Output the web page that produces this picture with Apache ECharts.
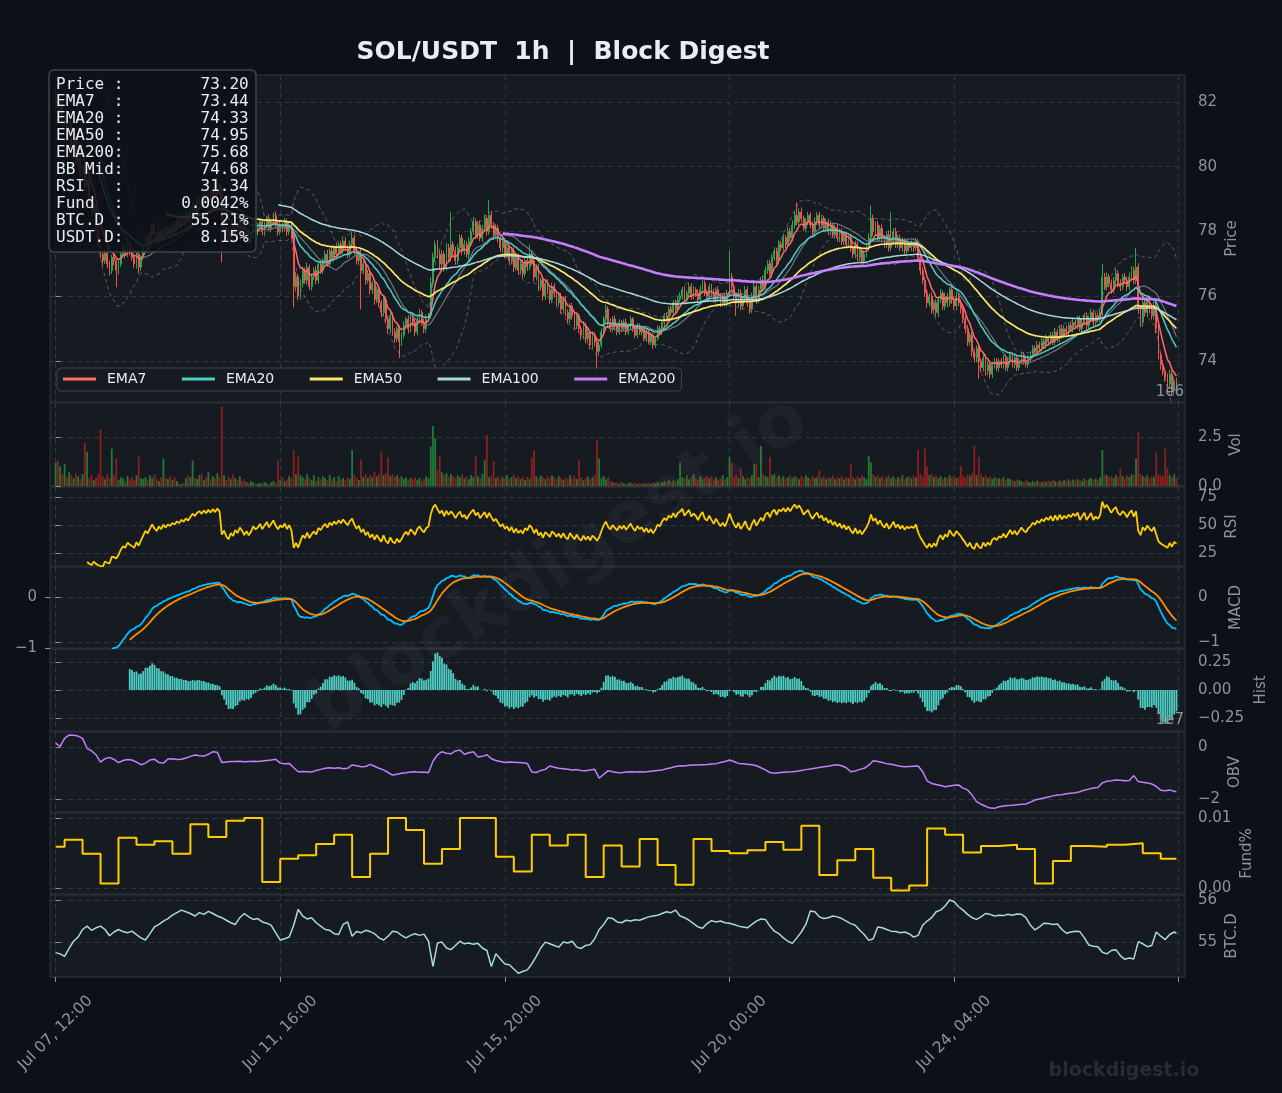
<!DOCTYPE html>
<html><head><meta charset="utf-8">
<script src="https://cdn.jsdelivr.net/npm/echarts@6/dist/echarts.min.js"></script>
<style>html,body{margin:0;padding:0;background:#0d1117;}#c{width:1282px;height:1093px;}</style>
</head><body><div id="c"></div>
<script>
// ---------------- DATA ----------------
const FIRST_OPEN = 81.9;
const closes = [
82.1,81.6,81.9,81.3,81.5,80.9,81.2,80.6,80.8,80.2,
80.4,79.8,80.0,79.4,79.6,79.0,78.6,78.8,78.1,77.6,
77.3,77.1,77.4,77.0,76.8,77.2,77.1,76.8,77.0,77.3,
77.5,77.3,77.6,77.4,77.2,77.0,77.3,76.9,77.2,77.5,
77.8,77.6,77.9,78.2,77.9,77.7,78.0,77.8,78.1,77.9,
78.1,78.0,78.2,78.1,78.3,78.2,78.4,78.3,78.5,78.4,
78.6,78.8,78.7,78.9,79.0,78.9,79.1,79.0,79.2,79.1,
79.3,79.2,79.4,79.3,78.2,78.4,78.0,77.8,78.1,77.9,
78.2,78.0,78.3,78.1,77.8,78.0,77.7,77.9,78.2,78.0,
78.1,78.3,78.0,78.2,78.4,78.1,78.3,78.5,78.2,78.0,
78.2,78.1,78.3,78.0,78.2,77.9,76.3,76.6,76.0,76.4,
76.8,76.5,76.9,76.3,76.6,76.8,76.5,77.0,76.8,77.1,
77.3,77.0,77.4,77.2,77.5,77.3,77.6,77.4,77.7,77.5,
77.3,77.6,77.8,77.4,77.1,77.3,76.8,77.0,76.5,76.7,
76.2,76.4,75.9,76.2,75.8,75.5,75.9,75.3,75.0,75.4,
74.9,74.7,75.0,74.6,74.8,75.1,75.3,75.0,75.4,75.2,
74.9,75.3,75.5,75.2,75.0,75.3,75.4,76.4,77.2,77.6,
77.3,77.0,77.3,76.9,77.5,77.2,77.6,77.4,77.1,77.5,
77.8,77.4,77.6,77.3,77.7,78.0,78.3,77.9,78.2,77.8,
78.1,78.4,78.0,78.5,78.2,77.9,78.1,77.8,77.5,77.7,
77.3,77.5,77.1,77.4,76.9,77.2,76.8,77.0,76.7,77.1,
76.9,77.3,77.1,76.6,76.9,76.3,76.5,76.0,76.4,76.2,
75.9,76.3,76.1,75.8,76.0,75.6,75.9,75.5,75.3,75.7,
75.4,75.1,75.4,75.0,74.8,75.1,74.7,74.9,74.5,74.8,
74.6,74.3,74.5,74.9,75.3,75.6,75.2,75.0,75.3,75.1,
74.9,75.2,75.0,75.2,74.9,75.1,75.3,75.0,74.8,75.1,
74.9,75.0,74.7,74.9,74.6,74.8,74.5,74.7,75.0,74.9,
75.2,75.4,75.3,75.6,75.5,75.8,75.6,75.9,76.0,76.2,
75.9,76.1,76.3,76.0,76.2,76.1,75.9,76.2,76.4,76.1,
76.0,76.3,76.1,75.9,76.2,76.0,75.8,76.0,75.8,76.1,
76.6,76.3,76.0,75.8,76.1,75.7,75.9,76.2,75.8,75.6,
76.0,76.3,75.9,76.2,76.5,76.3,76.8,77.0,76.7,77.2,
77.4,77.1,77.6,77.5,77.8,77.6,78.0,77.8,78.2,78.5,
78.3,78.6,78.4,78.1,78.3,78.5,78.2,78.0,78.3,78.5,
78.2,78.4,78.1,78.3,78.0,78.2,77.9,78.1,77.8,78.0,
77.7,77.9,77.6,77.8,77.5,77.3,77.6,77.2,77.4,77.1,
77.3,77.5,77.8,78.4,78.0,78.2,77.8,78.1,77.8,77.6,
77.9,77.5,77.7,78.0,77.6,77.8,77.5,77.7,77.4,77.6,
77.5,77.6,77.5,77.7,77.2,76.8,76.5,76.1,75.8,76.0,
75.6,75.8,75.5,75.9,76.1,75.7,76.0,75.8,76.2,75.9,
75.7,76.0,75.8,75.6,75.3,75.0,74.6,74.8,74.3,74.1,
74.4,74.0,73.8,74.1,73.7,73.9,73.6,73.9,74.0,73.8,
74.0,73.9,74.1,73.8,74.0,74.2,73.9,74.1,73.8,74.0,
74.2,74.0,73.9,74.1,74.2,74.4,74.3,74.5,74.4,74.6,
74.5,74.7,74.6,74.8,74.6,74.9,74.7,75.0,74.8,75.0,
74.9,75.1,75.0,75.2,75.1,75.3,75.0,75.2,75.4,75.1,
75.3,75.5,75.2,75.4,75.3,75.5,76.6,76.3,76.6,76.4,
76.2,76.5,76.7,76.4,76.3,76.6,76.5,76.3,76.6,76.8,
76.5,76.9,75.6,75.2,75.8,75.5,75.9,75.6,75.4,75.7,
75.0,74.2,73.9,73.7,73.5,73.3,73.6,73.1,73.4,73.2];
// upper / lower wick length beyond the candle body, in hundredths of a dollar
const wickUp = [
30,12,8,15,10,6,12,9,14,7, 11,16,6,9,13,8,12,5,10,14, 9,12,7,15,10,8,13,6,11,9, 12,8,14,10,6,11,9,13,7,10,
8,13,10,6,12,9,15,7,11,10, 10,7,12,9,14,8,11,6,13,9, 12,9,7,14,10,13,8,11,9,12, 9,13,10,8,15,11,7,12,9,10,
11,8,13,9,6,12,10,7,14,9, 8,12,9,11,7,13,10,8,12,9, 10,7,12,9,11,8,20,14,10,13, 12,9,14,8,11,10,13,7,12,9,
10,13,8,12,9,14,7,11,10,12, 9,12,20,10,13,8,14,11,9,12, 11,8,13,10,12,9,14,8,11,10, 10,12,8,11,9,13,7,12,10,8,
11,9,12,8,10,13,9,18,15,12, 14,11,13,9,15,12,100,10,13,11, 12,10,14,9,13,11,15,10,12,14, 11,13,10,48,12,9,14,11,10,12,
10,12,9,13,11,8,12,10,14,9, 12,30,10,13,9,11,8,12,10,13, 9,12,10,8,13,11,9,12,10,8, 11,9,12,8,10,13,9,11,8,12,
10,8,12,11,9,15,10,12,9,11, 8,10,7,9,11,8,10,6,9,8, 7,9,8,10,6,9,8,7,10,8, 9,8,11,9,12,10,9,13,12,10,
11,9,13,10,12,8,11,14,10,9, 12,10,9,13,8,11,10,9,12,10, 80,12,10,9,13,11,8,12,10,9, 11,13,9,12,10,14,12,11,13,10,
12,10,14,11,13,9,15,12,14,13, 40,12,14,10,13,11,9,12,14,10, 11,13,9,12,10,14,8,11,13,9, 10,12,9,11,13,8,12,10,9,11,
12,10,14,40,12,11,13,10,12,9, 11,13,90,10,12,9,11,13,10,12, 10,12,9,11,8,12,10,9,11,10, 12,9,11,10,13,8,12,10,9,11,
10,12,9,11,8,10,12,9,11,8, 9,11,8,10,12,9,11,8,10,9, 8,10,9,11,8,10,9,12,8,10, 9,8,10,9,11,10,9,12,10,11,
10,12,9,11,10,13,9,11,12,10, 11,9,12,10,8,11,10,12,9,11, 10,12,9,11,10,13,40,12,14,10, 12,10,14,11,13,9,12,10,14,13,
11,60,12,14,10,13,11,12,10,13, 12,14,10,13,11,12,14,10,12,9];
const wickDn = [
10,14,9,12,8,15,11,13,9,12, 14,10,13,9,15,11,14,10,12,13, 12,15,10,13,16,11,14,52,12,10, 11,13,9,14,10,12,15,20,11,9,
12,10,13,9,11,14,8,12,10,13, 9,12,10,14,8,11,13,9,12,10, 10,13,9,11,14,8,12,10,13,9, 12,9,14,10,115,13,11,9,14,12,
10,13,9,12,11,14,8,12,10,13, 12,9,11,13,10,8,12,11,9,13, 10,12,9,14,11,13,64,15,12,10, 13,11,14,10,12,9,13,11,10,12,
11,9,12,10,13,11,8,12,10,9, 12,10,9,13,11,14,120,12,15,11, 14,12,16,11,13,15,12,14,16,13, 12,15,11,50,13,10,12,14,11,13,
12,10,13,11,14,12,10,9,12,14, 13,15,12,14,11,13,12,15,13,12, 11,13,12,10,14,12,11,13,12,10, 12,11,13,10,12,14,11,13,12,15,
13,11,14,12,15,11,13,12,14,11, 12,10,13,15,11,14,12,13,11,14, 13,11,14,12,10,15,13,11,14,12, 12,14,11,13,15,12,14,11,13,12,
14,80,12,10,11,9,12,10,11,12, 10,9,11,8,10,9,11,10,9,10, 9,10,8,11,9,10,12,9,8,10, 9,11,10,8,10,9,11,10,9,11,
10,12,9,11,10,12,9,10,11,9, 11,10,12,9,11,10,13,11,10,12, 12,11,10,40,12,13,11,10,12,14, 12,10,13,11,9,12,10,11,9,12,
10,12,9,11,10,12,9,11,10,12, 11,10,12,9,13,11,10,12,11,10, 12,11,10,13,11,12,10,12,11,13, 11,13,12,10,12,11,13,12,10,12,
12,10,11,13,12,10,12,11,13,10, 11,12,10,13,11,12,10,12,11,10, 12,11,13,10,12,14,13,12,15,12, 13,15,12,14,11,13,12,14,11,13,
12,14,11,13,12,15,13,12,16,14, 13,55,14,12,15,13,14,12,13,11, 12,11,13,10,12,11,10,12,11,10, 10,11,9,12,10,11,10,9,11,10,
11,10,12,9,11,10,12,11,10,9, 10,12,9,11,10,12,9,11,10,12, 11,10,12,9,11,10,12,11,13,12, 12,11,13,12,14,11,12,13,11,12,
13,12,14,15,13,12,14,13,12,11, 14,15,16,14,13,15,14,16,12,13];
// hourly volume, units of 1e4
const volume = [
120,130,100,60,110,45,70,55,40,65, 50,35,60,220,175,40,55,30,45,60, 290,50,35,60,40,190,55,140,30,45, 40,25,50,35,45,30,55,150,40,35,
45,30,55,40,60,35,25,45,140,40, 35,50,30,45,25,12,10,15,40,55, 45,130,40,35,55,60,30,45,70,35, 50,40,65,45,405,55,30,45,35,60,
40,30,50,25,35,20,15,25,18,12, 10,15,12,20,14,10,18,25,15,130, 30,45,25,35,50,40,184,60,150,55, 45,35,60,40,30,55,25,45,35,50,
40,30,55,35,45,25,50,35,40,30, 45,35,184,55,40,30,135,45,60,40, 55,45,70,50,60,170,55,65,147,50, 60,45,55,40,50,35,45,30,40,35,
45,30,40,25,35,50,40,200,306,243, 80,150,70,55,65,45,60,50,40,55, 45,60,40,50,35,55,45,155,50,40, 60,130,260,45,55,127,40,50,35,45,
40,55,35,45,60,40,50,35,45,30, 45,35,145,184,50,40,55,45,35,50, 40,55,45,35,50,40,30,45,35,55, 40,50,35,130,45,30,40,50,35,45,
55,235,140,40,50,35,45,25,20,15, 18,12,20,15,10,14,18,12,16,10, 14,10,16,12,18,10,15,12,20,14, 18,25,20,30,22,28,25,35,120,45,
40,55,35,45,60,40,30,50,35,45, 55,40,50,35,45,30,40,55,35,45, 150,120,45,55,40,90,50,35,45,40, 55,110,115,45,204,60,50,45,148,55,
60,45,55,40,50,35,45,55,40,50, 45,35,50,40,55,45,35,50,40,45, 80,40,50,35,45,40,55,35,45,40, 50,35,45,40,110,45,35,50,40,55,
45,35,153,120,60,45,55,40,50,35, 45,55,40,50,35,45,40,55,35,45, 50,40,55,45,184,60,50,190,100,55, 60,45,55,40,50,35,45,40,55,45,
50,40,45,100,55,45,60,50,65,204, 55,148,60,45,55,40,50,35,45,40, 40,35,45,30,40,35,30,25,35,30, 25,20,30,22,18,25,20,28,22,18,
25,20,28,22,30,25,20,28,24,30, 28,35,25,32,28,35,30,25,38,30, 35,40,30,38,32,45,184,60,55,45, 50,40,55,45,90,50,40,55,45,60,
55,140,277,60,50,45,55,40,50,45, 170,60,55,50,190,90,55,45,60,40];
// OBV (x1e7) sampled every 2 hours, last value at final hour
const obvVals = [
0.15,0.02,0.33,0.46,0.45,0.42,0.33,-0.05,-0.15,-0.30,
-0.58,-0.45,-0.40,-0.48,-0.60,-0.52,-0.48,-0.50,-0.58,-0.68,
-0.62,-0.50,-0.47,-0.60,-0.62,-0.46,-0.45,-0.48,-0.47,-0.42,
-0.36,-0.31,-0.34,-0.35,-0.28,-0.18,-0.20,-0.60,-0.58,-0.56,
-0.56,-0.55,-0.57,-0.56,-0.55,-0.56,-0.54,-0.52,-0.50,-0.47,
-0.62,-0.64,-0.63,-0.80,-0.95,-0.94,-0.95,-0.96,-0.90,-0.86,
-0.82,-0.80,-0.82,-0.80,-0.84,-0.82,-0.69,-0.72,-0.76,-0.75,
-0.67,-0.74,-0.82,-0.88,-0.98,-1.08,-1.05,-1.01,-0.99,-0.96,
-0.95,-0.97,-0.96,-0.99,-0.55,-0.30,-0.18,-0.24,-0.26,-0.15,
-0.12,-0.28,-0.22,-0.18,-0.38,-0.36,-0.30,-0.45,-0.52,-0.56,
-0.60,-0.58,-0.59,-0.60,-0.61,-0.63,-0.96,-0.98,-0.90,-0.86,
-0.73,-0.78,-0.82,-0.84,-0.86,-0.88,-0.87,-0.90,-0.91,-0.88,
-0.86,-1.20,-1.05,-0.91,-0.95,-0.98,-0.99,-0.96,-0.95,-0.96,
-0.95,-0.96,-0.94,-0.92,-0.90,-0.88,-0.84,-0.80,-0.75,-0.72,
-0.73,-0.70,-0.69,-0.69,-0.68,-0.67,-0.65,-0.64,-0.60,-0.56,
-0.50,-0.56,-0.63,-0.64,-0.66,-0.68,-0.72,-0.80,-0.88,-0.98,
-1.01,-0.99,-0.97,-0.96,-0.95,-0.93,-0.90,-0.87,-0.85,-0.82,
-0.79,-0.76,-0.74,-0.70,-0.68,-0.72,-0.80,-0.95,-0.92,-0.86,
-0.82,-0.70,-0.53,-0.56,-0.60,-0.64,-0.66,-0.70,-0.74,-0.76,
-0.75,-0.74,-0.73,-0.95,-1.30,-1.40,-1.44,-1.48,-1.53,-1.50,
-1.47,-1.46,-1.58,-1.65,-1.85,-2.10,-2.20,-2.28,-2.35,-2.36,
-2.30,-2.27,-2.25,-2.24,-2.22,-2.20,-2.19,-2.12,-2.04,-2.00,
-1.96,-1.92,-1.88,-1.85,-1.84,-1.80,-1.78,-1.76,-1.72,-1.66,
-1.62,-1.58,-1.56,-1.38,-1.32,-1.30,-1.27,-1.28,-1.30,-1.29,
-1.10,-1.33,-1.36,-1.38,-1.42,-1.52,-1.66,-1.68,-1.65,-1.70,
-1.72];
// BTC dominance (%) sampled every 2 hours, last value at final hour
const btcVals = [
54.75,54.72,54.66,54.85,55.02,55.12,55.30,55.38,55.28,55.34,
55.38,55.30,55.15,55.24,55.30,55.25,55.22,55.26,55.18,55.10,
55.05,55.20,55.36,55.42,55.50,55.56,55.64,55.70,55.76,55.72,
55.68,55.62,55.70,55.66,55.73,55.68,55.62,55.58,55.52,55.46,
55.42,55.58,55.68,55.60,55.54,55.56,55.48,55.45,55.40,55.22,
55.05,55.08,55.12,55.40,55.78,55.62,55.55,55.58,55.46,55.38,
55.30,55.28,55.20,55.18,55.42,55.48,55.14,55.25,55.22,55.28,
55.25,55.20,55.10,55.05,55.14,55.26,55.24,55.16,55.10,55.16,
55.20,55.16,55.19,55.02,54.42,54.98,55.00,54.86,54.82,54.92,
55.02,54.96,54.98,54.95,54.97,54.86,54.80,54.42,54.72,54.60,
54.48,54.46,54.36,54.26,54.30,54.34,54.48,54.66,54.86,55.00,
54.96,54.92,54.88,55.00,54.98,55.02,54.88,54.85,54.92,54.94,
55.08,55.30,55.42,55.58,55.56,55.48,55.46,55.52,55.50,55.53,
55.52,55.56,55.60,55.62,55.64,55.68,55.72,55.70,55.76,55.62,
55.58,55.52,55.44,55.36,55.33,55.44,55.51,55.48,55.50,55.46,
55.45,55.42,55.38,55.36,55.34,55.42,55.50,55.55,55.54,55.38,
55.26,55.20,55.10,55.02,54.97,55.10,55.24,55.42,55.74,55.72,
55.60,55.56,55.58,55.62,55.60,55.56,55.50,55.44,55.40,55.28,
55.18,55.04,55.08,55.36,55.34,55.30,55.26,55.25,55.22,55.24,
55.20,55.12,55.16,55.40,55.50,55.58,55.72,55.76,55.86,56.00,
55.96,55.84,55.76,55.66,55.58,55.54,55.60,55.68,55.66,55.62,
55.64,55.63,55.66,55.64,55.67,55.66,55.58,55.40,55.29,55.36,
55.45,55.44,55.42,55.43,55.30,55.21,55.24,55.26,55.25,55.10,
54.93,54.90,54.89,54.76,54.72,54.80,54.82,54.68,54.59,54.62,
54.60,55.01,54.96,54.89,54.92,55.24,55.14,55.06,55.18,55.24,
55.21];
// funding rate (%) per 8h funding period (first segment from start)
const fundVals = [
0.0059,0.0069,0.0049,0.0007,0.0072,0.0062,0.0067,0.0049,0.0091,0.0073,
0.0096,0.0100,0.0009,0.0042,0.0047,0.0063,0.0076,0.0016,0.0049,0.0100,
0.0083,0.0035,0.0056,0.0100,0.0100,0.0045,0.0024,0.0076,0.0061,0.0076,
0.0016,0.0061,0.0031,0.0070,0.0033,0.0005,0.0070,0.0053,0.0050,0.0054,
0.0066,0.0055,0.0089,0.0019,0.0040,0.0056,0.0015,-0.0003,0.0004,0.0085,
0.0076,0.0051,0.0060,0.0062,0.0056,0.0007,0.0039,0.0060,0.0059,0.0062,
0.0064,0.0050,0.0042];
const xTickHours = [0,100,200,300,400,500];
const xLabelHours = [0,100,200,300,400];
const priceTicks = [74,76,78,80,82];
const volTicks = [0,2.5];
const rsiTicks = [25,50,75];
const macdTicks = [-1,0];
const histTicks = [-0.25,0,0.25];
const obvTicks = [-2,0];
const fundTicks = [0,0.01];
const btcTicks = [55,56];
const infoLabels = ['Price :','EMA7  :','EMA20 :','EMA50 :','EMA200:','BB Mid:','RSI   :','Fund  :','BTC.D :','USDT.D:'];
const infoValues = ['73.20','73.44','74.33','74.95','75.68','74.68','31.34','0.0042%','55.21%','8.15%'];
const TITLE = 'SOL/USDT  1h  |  Block Digest';

// ---------------- checks ----------------
[['closes',closes,500],['wickUp',wickUp,500],['wickDn',wickDn,500],['volume',volume,500],['obv',obvVals,251],['btc',btcVals,251],['fund',fundVals,63]]
 .forEach(([n,a,l])=>{ if(a.length!==l) throw new Error(n+' length '+a.length); });

// ---------------- derived ----------------
const N = closes.length, LAST = N-1;
const opens = closes.map((c,i)=> i===0 ? FIRST_OPEN : closes[i-1]);
const candles = closes.map((c,i)=>{
  const o=opens[i]; const hi=Math.max(o,c)+wickUp[i]/100; const lo=Math.min(o,c)-wickDn[i]/100;
  return [i,o,c,lo,hi];
});
function ema(arr,n,minP){ const a=2/(n+1); const out=new Array(arr.length).fill(null); let e=null,cnt=0;
  for(let i=0;i<arr.length;i++){ if(arr[i]==null) continue; e = e==null?arr[i]:a*arr[i]+(1-a)*e; cnt++; if(cnt>=minP) out[i]=e; } return out; }
const pairs = arr => arr.map((v,i)=> v==null?null:[i,v]).filter(Boolean);
const ema7=ema(closes,7,7), ema20=ema(closes,20,20), ema50=ema(closes,50,50), ema100=ema(closes,100,100), ema200=ema(closes,200,200);
const bbMid=new Array(N).fill(null), bbUp=new Array(N).fill(null), bbLo=new Array(N).fill(null);
for(let i=19;i<N;i++){ let s=0; for(let k=i-19;k<=i;k++) s+=closes[k]; const m=s/20; let v=0; for(let k=i-19;k<=i;k++) v+=(closes[k]-m)**2; const sd=Math.sqrt(v/19); bbMid[i]=m; bbUp[i]=m+2*sd; bbLo[i]=m-2*sd; }
const rsi=new Array(N).fill(null); { let ag=0,al=0; for(let i=1;i<N;i++){ const d=closes[i]-closes[i-1]; const g=Math.max(d,0),l=Math.max(-d,0); if(i===1){ag=g;al=l;} else {ag+=(g-ag)/14; al+=(l-al)/14;} if(i>=14) rsi[i]= al===0?100:100-100/(1+ag/al);} }
const e12=ema(closes,12,1), e26=ema(closes,26,26);
const macd=closes.map((c,i)=> e26[i]==null?null:e12[i]-e26[i]);
const signal=ema(macd,9,9);
const hist=macd.map((m,i)=> (m==null||signal[i]==null)?null:m-signal[i]);
const volData = volume.map((v,i)=>({value:[i,v/100], itemStyle:{color: closes[i]>=opens[i] ? '#237a36' : '#8e1f1f'}}));
const sampleHour = (i,len)=> i===len-1 ? LAST : i*2;
const obvData = obvVals.map((v,i)=>[sampleHour(i,obvVals.length),v]);
const btcData = btcVals.map((v,i)=>[sampleHour(i,btcVals.length),v]);
const fundData = fundVals.map((v,k)=>[k===0?0:4+8*(k-1), v]); fundData.push([LAST, fundVals[fundVals.length-1]]);

// ---------------- style helpers ----------------
const MONTHS=['Jan','Feb','Mar','Apr','May','Jun','Jul','Aug','Sep','Oct','Nov','Dec'];
const T0 = Date.UTC(2025,6,7,12);
function fmtHour(h){ const d=new Date(T0+h*3600e3); return MONTHS[d.getUTCMonth()]+' '+String(d.getUTCDate()).padStart(2,'0')+', '+String(d.getUTCHours()).padStart(2,'0')+':00'; }
const minus = s => String(s).replace('-','\u2212');
const AX = '#8b949e', GRIDC = '#30363d', FONT = '"DejaVu Sans", sans-serif';
const grids = [[75,327],[403,83],[487,79],[567,81],[649,82],[732,80],[813,81],[895,82]].map(([t,h])=>({
  left:50, width:1135, top:t, height:h, show:true, backgroundColor:'#161b22', borderColor:GRIDC, borderWidth:1, containLabel:false, outerBoundsMode:'none'}));
function xAx(g){ const last = g===7; return {type:'value', gridIndex:g, min:-2.5, max:502.8, splitNumber:5,
  axisLine:{show:false},
  axisTick:{show:last, length:5, lineStyle:{color:AX}, customValues:xTickHours},
  axisLabel:{show:last, customValues:xLabelHours, rotate:45, align:'center', verticalAlign:'middle', color:AX, fontSize:15.5, fontFamily:FONT, margin:56, formatter:v=>fmtHour(v)},
  splitLine:{show:true, lineStyle:{color:GRIDC, type:[5,4], width:1}}}; }
function yAx(g,min,max,ticks,fmt,name,gap,extra){ return Object.assign({type:'value', gridIndex:g, position:'right', min, max, splitNumber:3,
  axisLine:{show:false},
  axisTick:{show:true, length:5, lineStyle:{color:AX}, customValues:ticks},
  axisLabel:{color:AX, fontSize:15, fontFamily:FONT, margin:13, customValues:ticks, formatter:fmt},
  splitLine:{show:true, lineStyle:{color:GRIDC, type:[5,4], width:1}},
  name, nameLocation:'middle', nameGap:gap, nameRotate:90, nameMoveOverlap:false,
  nameTextStyle:{color:AX, fontSize:15, fontFamily:FONT}}, extra||{}); }
const line = (name,data,xi,yi,color,width,extra)=>Object.assign({type:'line', name, data, xAxisIndex:xi, yAxisIndex:yi, showSymbol:false, symbol:'none', color,
  lineStyle:{color, width}, silent:true, animation:false, z:3}, extra||{});

const infoText = infoLabels.map((l,i)=> l + infoValues[i].padStart(13)).join('\n');

const option = {
  backgroundColor:'#0d1117', animation:false,
  grid: grids,
  xAxis: [0,1,2,3,4,5,6,7].map(xAx),
  yAxis: [
    yAx(0,72.74,82.83,priceTicks,v=>String(v),'Price',40),
    yAx(1,0,4.23,volTicks,v=>v.toFixed(1),'Vol',44),
    yAx(2,13.4,83.9,rsiTicks,v=>String(v),'RSI',40),
    yAx(3,-1.133,0.667,macdTicks,v=>minus(v),'MACD',44),
    yAx(3,-1,0.588,macdTicks,v=>minus(v),'',0,{position:'left', splitLine:{show:false}}),
    yAx(4,-0.366,0.366,histTicks,v=>minus(v.toFixed(2)),'Hist',69),
    yAx(5,-2.5,0.577,obvTicks,v=>minus(v),'OBV',43),
    yAx(6,-0.0008,0.0107,fundTicks,v=>v.toFixed(2),'Fund%',55),
    yAx(7,54.17,56.12,btcTicks,v=>String(v),'BTC.D',40)
  ],
  legend:{data:['EMA7','EMA20','EMA50','EMA100','EMA200'], left:57, top:368, orient:'horizontal', icon:'rect', itemWidth:33, itemHeight:3, itemGap:35.5,
    padding:[4,6,5,6], backgroundColor:'rgba(22,27,34,0.92)', borderColor:'#3d444d', borderWidth:1, borderRadius:4, selectedMode:false,
    textStyle:{color:'#e6edf3', fontSize:14, fontFamily:FONT, padding:[0,0,0,6]}},
  series: [
    line('BBU',pairs(bbUp),0,0,'rgba(139,148,158,0.55)',1,{lineStyle:{color:'rgba(139,148,158,0.55)',width:1,type:[4,3]}, z:1}),
    line('BBL',pairs(bbLo),0,0,'rgba(139,148,158,0.55)',1,{lineStyle:{color:'rgba(139,148,158,0.55)',width:1,type:[4,3]}, z:1}),
    {type:'candlestick', name:'SOL', data:candles, xAxisIndex:0, yAxisIndex:0, encode:{x:0,y:[1,2,3,4]}, barWidth:1.4, silent:true, z:2,
     itemStyle:{color:'#2da44e', color0:'#f0524f', borderColor:'#2da44e', borderColor0:'#f0524f', borderWidth:1}},
    line('BBM',pairs(bbMid),0,0,'#6e7681',1.2,{z:3}),
    line('EMA7',pairs(ema7),0,0,'#ff6b6b',1.5),
    line('EMA20',pairs(ema20),0,0,'#4ecdc4',1.5),
    line('EMA50',pairs(ema50),0,0,'#ffe66d',1.7),
    line('EMA100',pairs(ema100),0,0,'#a8dadc',1.5),
    line('EMA200',pairs(ema200),0,0,'#c77dff',2.6),
    {type:'bar', name:'Vol', data:volData, xAxisIndex:1, yAxisIndex:1, barWidth:1.8, silent:true, animation:false},
    line('RSI',pairs(rsi),2,2,'#ffcc00',1.8),
    line('MACD',pairs(macd),3,3,'#00bfff',1.8),
    line('Signal',pairs(signal),3,3,'#ff8c00',1.8),
    {type:'bar', name:'Hist', data:pairs(hist), xAxisIndex:4, yAxisIndex:5, barWidth:1.8, silent:true, animation:false, itemStyle:{color:'#4ecdc4'}},
    line('OBV',obvData,5,6,'#c77dff',1.5),
    line('Fund',fundData,6,7,'#ffcc00',2,{step:'end'}),
    line('BTC.D',btcData,7,8,'#a8dadc',1.5)
  ],
  graphic: [
    {type:'text', x:563, y:52, silent:true, z:100, style:{text:TITLE, fill:'#e6edf3', font:'bold 25px "DejaVu Sans"', textAlign:'center', textVerticalAlign:'middle', verticalAlign:'middle'}},
    {type:'rect', shape:{x:49,y:70,width:207,height:182,r:5}, silent:true, z:100, style:{fill:'rgba(13,17,23,0.86)', stroke:'#3d444d', lineWidth:1.5}},
    {type:'text', x:56, y:76, silent:true, z:101, style:{text:infoText, fill:'#e6edf3', font:'16px "DejaVu Sans Mono"', lineHeight:17, textAlign:'left', textVerticalAlign:'top', verticalAlign:'top'}},
    {type:'text', x:1184, y:392, silent:true, z:100, style:{text:'1e6', fill:AX, font:'15px "DejaVu Sans"', textAlign:'right', textVerticalAlign:'middle', verticalAlign:'middle'}},
    {type:'text', x:1184, y:720, silent:true, z:100, style:{text:'1e7', fill:AX, font:'15px "DejaVu Sans"', textAlign:'right', textVerticalAlign:'middle', verticalAlign:'middle'}},
    {type:'text', x:560, y:566, rotation:32*Math.PI/180, silent:true, z:90, style:{text:'blockdigest.io', fill:'rgba(200,210,225,0.045)', font:'bold 72px "DejaVu Sans"', textAlign:'center', textVerticalAlign:'middle', verticalAlign:'middle'}},
    {type:'text', x:1124, y:1071, silent:true, z:90, style:{text:'blockdigest.io', fill:'#262c35', font:'bold 19px "DejaVu Sans"', textAlign:'center', textVerticalAlign:'middle', verticalAlign:'middle'}}
  ]
};
const chart = echarts.init(document.getElementById('c'), null, {renderer:'canvas', width:1282, height:1093});
chart.setOption(option);
</script></body></html>
